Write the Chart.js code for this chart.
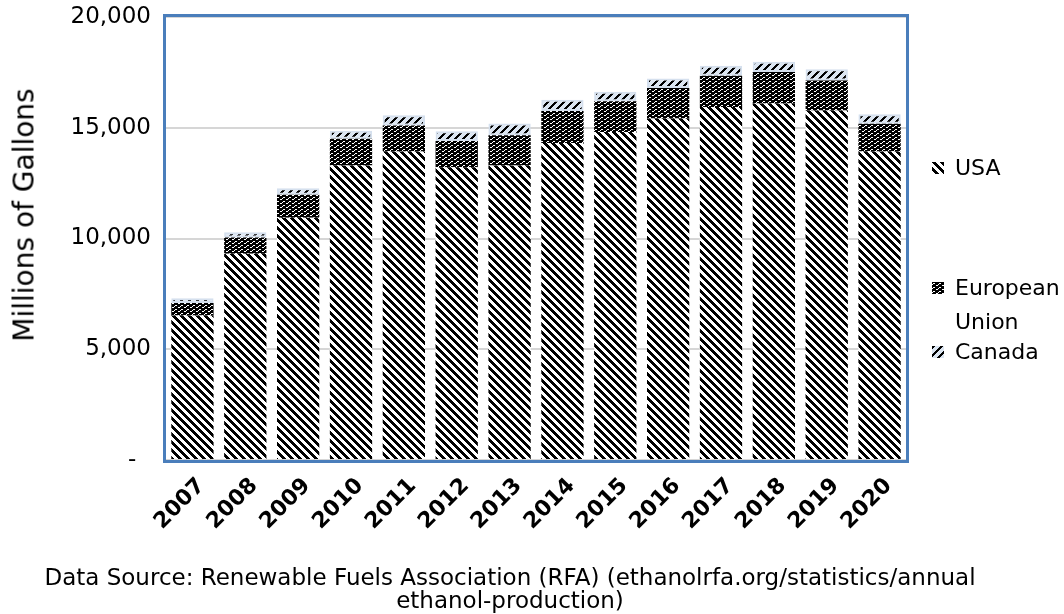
<!DOCTYPE html>
<html><head><meta charset="utf-8">
<script src="https://cdn.jsdelivr.net/npm/chart.js@4.4.1/dist/chart.umd.min.js"></script>
<style>
html,body{margin:0;padding:0;background:#fff;}
#wrap{position:relative;width:1064px;height:614px;font-family:'DejaVu Sans', sans-serif;color:#000;overflow:hidden;}
#c{position:absolute;left:0;top:0;}
#ytitle{position:absolute;left:24px;top:215px;transform:translate(-50%,-50%) rotate(-90deg);font-size:28px;white-space:nowrap;}
.lg{position:absolute;left:932px;font-size:22px;line-height:34px;}
.lg canvas{position:absolute;left:0;top:11px;}
.lg span{position:absolute;left:23px;top:0;white-space:nowrap;}
#caption{position:absolute;left:0;width:1020px;top:566px;text-align:center;font-size:23px;line-height:23px;white-space:nowrap;}
</style>
</head><body>
<div id="wrap">
<canvas id="c" width="1064" height="614"></canvas>
<div id="ytitle">Millions of Gallons</div>
<div class="lg" style="top:151px"><canvas id="sw0" width="12" height="12"></canvas><span>USA</span></div>
<div class="lg" style="top:271px"><canvas id="sw1" width="12" height="12"></canvas><span>European<br>Union</span></div>
<div class="lg" style="top:335px"><canvas id="sw2" width="12" height="12"></canvas><span>Canada</span></div>
<div id="caption">Data Source: Renewable Fuels Association (RFA) (ethanolrfa.org/statistics/annual<br>ethanol-production)</div>
</div>
<script>
const years = ['2007','2008','2009','2010','2011','2012','2013','2014','2015','2016','2017','2018','2019','2020'];
const usa = [6521, 9309, 10938, 13298, 13929, 13218, 13293, 14313, 14807, 15413, 15936, 16091, 15778, 13926];
const eu = [570, 734, 1040, 1209, 1168, 1179, 1371, 1445, 1387, 1377, 1415, 1430, 1360, 1250];
const canada = [211, 238, 291, 357, 462, 449, 523, 510, 436, 436, 450, 460, 500, 429];
const seriesNames = ['USA', 'European Union', 'Canada'];
const yTickLabels = ['-  ', '5,000', '10,000', '15,000', '20,000'];

function tile(w, h, bg, fn) {
  const c = document.createElement('canvas');
  c.width = w; c.height = h;
  const x = c.getContext('2d');
  x.fillStyle = bg; x.fillRect(0, 0, w, h);
  x.fillStyle = '#000';
  for (let i = 0; i < w; i++) for (let j = 0; j < h; j++) if (fn(i, j)) x.fillRect(i, j, 1, 1);
  return c;
}
const tUSA = tile(8, 8, '#ffffff', (i, j) => (((i - j) % 8) + 8) % 8 < 4);
const tEU = tile(6, 4, '#ffffff', (i, j) => {
  if (j === 1) return !(i >= 1 && i <= 2);
  if (j === 3) return !(i >= 4);
  return i !== 0 || j === 0;
});
const tCA = tile(8, 8, '#dbe5f1', (i, j) => ((i + j) % 8) < 3);

const ctx = document.getElementById('c').getContext('2d');
const pUSA = ctx.createPattern(tUSA, 'repeat');
const pEU = ctx.createPattern(tEU, 'repeat');
const pCA = ctx.createPattern(tCA, 'repeat');

[tUSA, tEU, tCA].forEach((t, k) => {
  const sc = document.getElementById('sw' + k).getContext('2d');
  sc.fillStyle = sc.createPattern(t, 'repeat');
  sc.fillRect(0, 0, 12, 12);
});

const frame = {
  id: 'frame',
  afterDatasetsDraw(chart) {
    const { ctx, chartArea: a } = chart;
    ctx.save();
    ctx.strokeStyle = '#4a7ebb';
    ctx.lineWidth = 3;
    ctx.strokeRect(a.left - 1.5, a.top - 1.5, a.right - a.left + 3, a.bottom - a.top + 3);
    ctx.restore();
  }
};

const font = "'DejaVu Sans', sans-serif";
new Chart(ctx, {
  type: 'bar',
  data: {
    labels: years,
    datasets: [
      { label: seriesNames[0], data: usa, backgroundColor: pUSA, borderWidth: 0, stack: 's' },
      { label: seriesNames[1], data: eu, backgroundColor: pEU, borderWidth: 0, stack: 's' },
      { label: seriesNames[2], data: canada, backgroundColor: pCA, borderColor: '#d5e0ee', borderWidth: 2, borderSkipped: false, stack: 's' }
    ]
  },
  options: {
    responsive: false,
    animation: false,
    devicePixelRatio: 1,
    layout: { padding: { left: 0, top: 17, right: 158, bottom: 0 } },
    plugins: { legend: { display: false }, tooltip: { enabled: false } },
    datasets: { bar: { categoryPercentage: 1, barPercentage: 0.8 } },
    scales: {
      x: {
        stacked: true,
        grid: { display: false, drawTicks: false },
        border: { display: false },
        ticks: { color: '#000', font: { family: font, size: 22, weight: 'bold' }, maxRotation: 45, minRotation: 45, padding: 13, labelOffset: 9 },
        afterFit: s => { s.height = 154; s.paddingLeft = 0; s.paddingRight = 0; }
      },
      y: {
        stacked: true,
        min: 0, max: 20000,
        grid: { color: '#d6d6d6', lineWidth: 2, drawTicks: false },
        border: { display: false },
        ticks: {
          stepSize: 5000, padding: 15, color: '#000',
          font: { family: font, size: 23 },
          callback: (v) => yTickLabels[Math.round(v / 5000)]
        },
        afterFit: s => { s.width = 166; s.paddingTop = 0; s.paddingBottom = 0; }
      }
    }
  },
  plugins: [frame]
});
</script>
</body></html>
